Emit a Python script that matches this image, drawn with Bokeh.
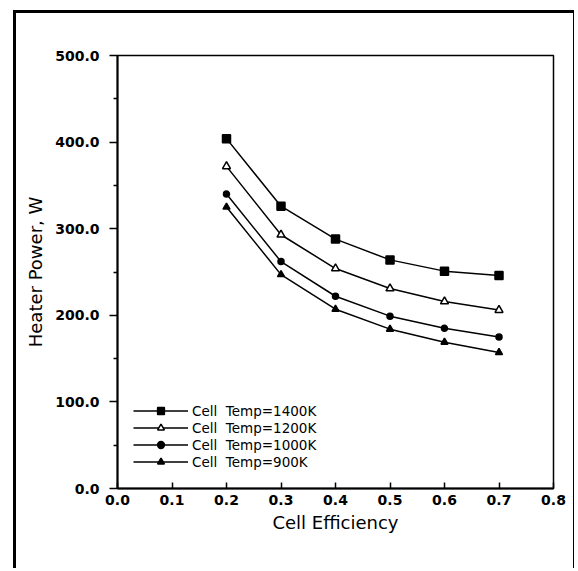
from bokeh.plotting import figure
from bokeh.models import (Legend, LegendItem, FixedTicker, Range1d,
                          NumeralTickFormatter)
from bokeh.embed import file_html
from bokeh.resources import INLINE

# ---- data ----
efficiency = [0.2, 0.3, 0.4, 0.5, 0.6, 0.7]
power_1400k = [404, 326, 288, 264, 251, 246]
power_1200k = [372, 293, 254, 231, 216, 206]
power_1000k = [340, 262, 222, 199, 185, 175]
power_900k = [325, 247, 207, 184, 169, 157]

labels = ["Cell  Temp=1400K", "Cell  Temp=1200K", "Cell  Temp=1000K", "Cell  Temp=900K"]
x_ticks = [0.0, 0.1, 0.2, 0.3, 0.4, 0.5, 0.6, 0.7, 0.8]
y_ticks = [0, 100, 200, 300, 400, 500]
y_minor = [50, 150, 250, 350, 450]

FONT = "DejaVu Sans"

p = figure(width=561, height=558, output_backend="svg", toolbar_location=None,
           x_range=Range1d(0, 0.8), y_range=Range1d(0, 500),
           min_border_left=101, min_border_right=24, min_border_top=42,
           min_border_bottom=83, background_fill_color="white",
           border_fill_color="white")
p.margin = (10, 0, 0, 13)
p.styles = {"border-left": "3px solid black", "border-top": "3px solid black",
            "border-right": "1.5px solid black"}
p.xgrid.visible = False
p.ygrid.visible = False
p.outline_line_color = "black"
p.outline_line_width = 1.5

# axes
xa = p.xaxis[0]
xa.ticker = FixedTicker(ticks=x_ticks, minor_ticks=[])
xa.formatter = NumeralTickFormatter(format="0.0")
xa.axis_label = "Cell Efficiency"
xa.major_tick_in = 6
xa.major_tick_out = 0
xa.minor_tick_line_color = None
ya = p.yaxis[0]
ya.ticker = FixedTicker(ticks=y_ticks, minor_ticks=y_minor)
ya.formatter = NumeralTickFormatter(format="0.0")
ya.axis_label = "Heater Power, W"
ya.major_tick_in = 0
ya.major_tick_out = 8
ya.minor_tick_in = 0
ya.minor_tick_out = 4
for ax in (xa, ya):
    ax.axis_line_width = 2
    ax.axis_line_color = "black"
    ax.major_tick_line_width = 1.5
    ax.minor_tick_line_width = 1.5
    ax.major_label_text_font = FONT
    ax.major_label_text_font_style = "bold"
    ax.major_label_text_font_size = "14px"
    ax.major_label_text_color = "black"
    ax.axis_label_text_font = FONT
    ax.axis_label_text_font_style = "normal"
    ax.axis_label_text_font_size = "18px"
    ax.axis_label_text_color = "black"
xa.major_label_standoff = 6
xa.axis_label_standoff = 4
ya.major_label_standoff = 10
ya.axis_label_standoff = 6

series = [
    (power_1400k, "square", 8, "black"),
    (power_1200k, "triangle", 8, "white"),
    (power_1000k, "circle", 6, "black"),
    (power_900k, "triangle", 7, "black"),
]
items = []
for (vals, marker, size, fill), lab in zip(series, labels):
    ln = p.line(efficiency, vals, line_color="black", line_width=1.5)
    sc = p.scatter(efficiency, vals, marker=marker, size=size, fill_color=fill,
                   line_color="black", line_width=1.5)
    items.append(LegendItem(label=lab, renderers=[ln, sc]))

legend = Legend(items=items, location=(16, 18), padding=0, margin=0, spacing=0,
                glyph_width=55, glyph_height=17, label_height=17, label_standoff=4,
                border_line_color=None, background_fill_alpha=0,
                label_text_font=FONT, label_text_font_size="13.5px",
                label_text_color="black")
p.add_layout(legend)

open("out.html", "w").write(file_html(p, INLINE))
